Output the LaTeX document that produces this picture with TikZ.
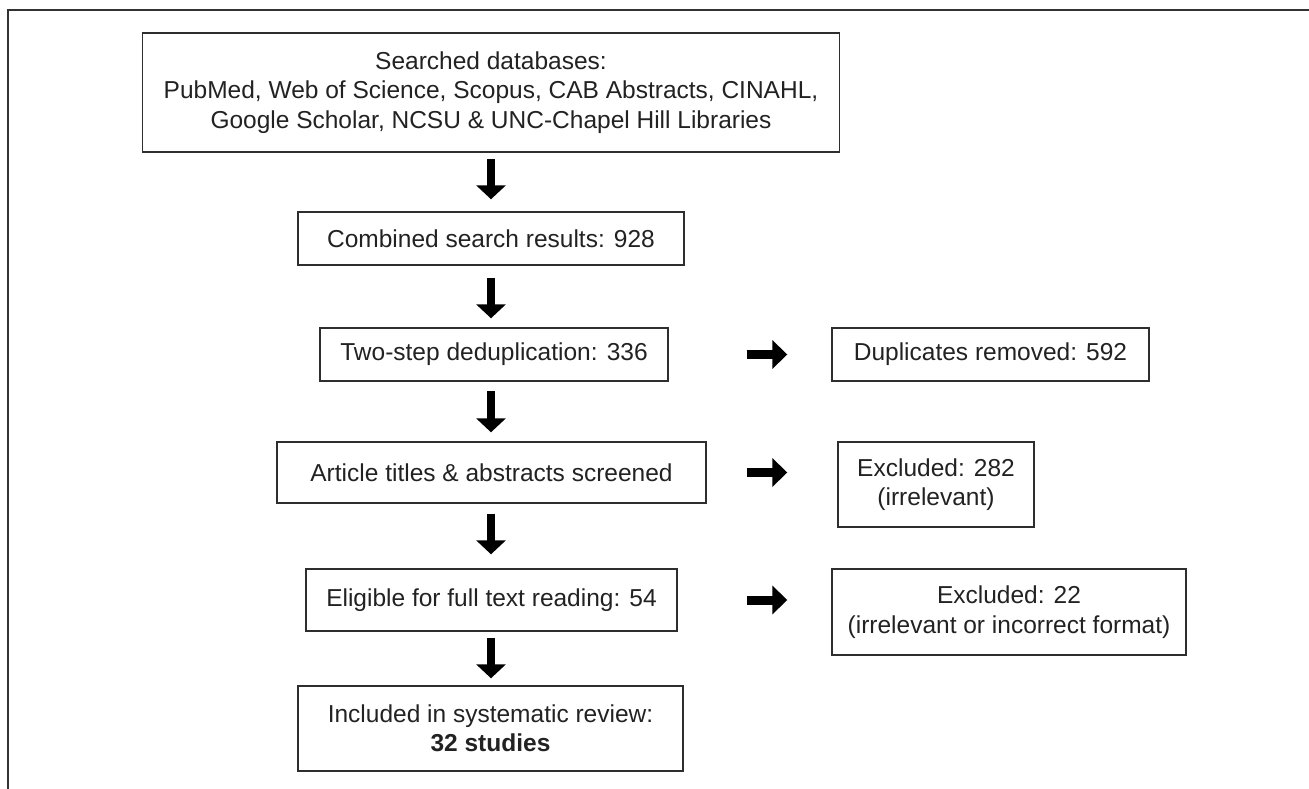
\documentclass[tikz,border=0pt]{standalone}
\usepackage{fontspec}
\setmainfont{Liberation Sans}
\usetikzlibrary{arrows.meta}
\definecolor{boxc}{HTML}{2E2E2E}
\definecolor{txtc}{HTML}{222222}
\definecolor{framec}{HTML}{333333}
\tikzset{
  box/.style={draw=boxc, line width=1.4pt, inner sep=0pt, align=center,
    font=\fontsize{24.5}{29.5}\selectfont, text=txtc},
  darr/.style={line width=7.5pt, draw=black, -{Triangle[width=29pt,length=14pt]}},
  rarr/.style={line width=9pt, draw=black, -{Triangle[width=28pt,length=15pt]}},
}
\begin{document}
\begin{tikzpicture}[x=1pt,y=-1pt]
\useasboundingbox (0,0) rectangle (1309,789);
\draw[framec, line width=2pt] (8,789) -- (8,10) -- (1309,10);

\node[box, minimum width=697pt, minimum height=119pt] (b1) at (491,92.5)
  {Searched databases:\\PubMed, Web of Science, Scopus, CAB Abstracts, CINAHL,\\Google Scholar, NCSU \& UNC-Chapel Hill Libraries};
\node[box, minimum width=386pt, minimum height=53pt] (b2) at (491,238.5)
  {Combined search results: 928};
\node[box, minimum width=348pt, minimum height=53pt] (b3) at (494,354.5)
  {Two-step deduplication: 336};
\node[box, minimum width=317pt, minimum height=53pt] (b4) at (990.5,354.5)
  {Duplicates removed: 592};
\node[box, minimum width=429pt, minimum height=61pt] (b5) at (491.5,472.5)
  {Article titles \& abstracts screened};
\node[box, minimum width=196pt, minimum height=85pt] (b6) at (936,484.5)
  {Excluded: 282\\(irrelevant)};
\node[box, minimum width=371pt, minimum height=62pt] (b7) at (491.5,600)
  {Eligible for full text reading: 54};
\node[box, minimum width=354pt, minimum height=86pt] (b8) at (1009,612)
  {Excluded: 22\\(irrelevant or incorrect format)};
\node[box, minimum width=385pt, minimum height=85pt] (b9) at (490.5,728.5)
  {Included in systematic review:\\\textbf{32 studies}};

\draw[darr, shorten <=6pt, shorten >=12pt] (b1.south -| b2.north) -- (b2.north);
\draw[darr, shorten <=12pt, shorten >=9pt] (b2.south) -- (b2.south |- b3.north);
\draw[darr, shorten <=9pt, shorten >=9pt] (b3.south -| b2.south) -- (b2.south |- b5.north);
\draw[darr, shorten <=10pt, shorten >=14pt] (b5.south -| b2.south) -- (b2.south |- b7.north);
\draw[darr, shorten <=6pt, shorten >=7pt] (b7.south -| b2.south) -- (b2.south |- b9.north);

\draw[rarr, shorten <=78pt, shorten >=44pt] (b3.east) -- (b3.east -| b4.west);
\draw[rarr, shorten <=40pt, shorten >=50pt] (b5.east) -- (b5.east -| b6.west);
\draw[rarr, shorten <=69pt, shorten >=44pt] (b7.east) -- (b7.east -| b8.west);
\end{tikzpicture}
\end{document}
